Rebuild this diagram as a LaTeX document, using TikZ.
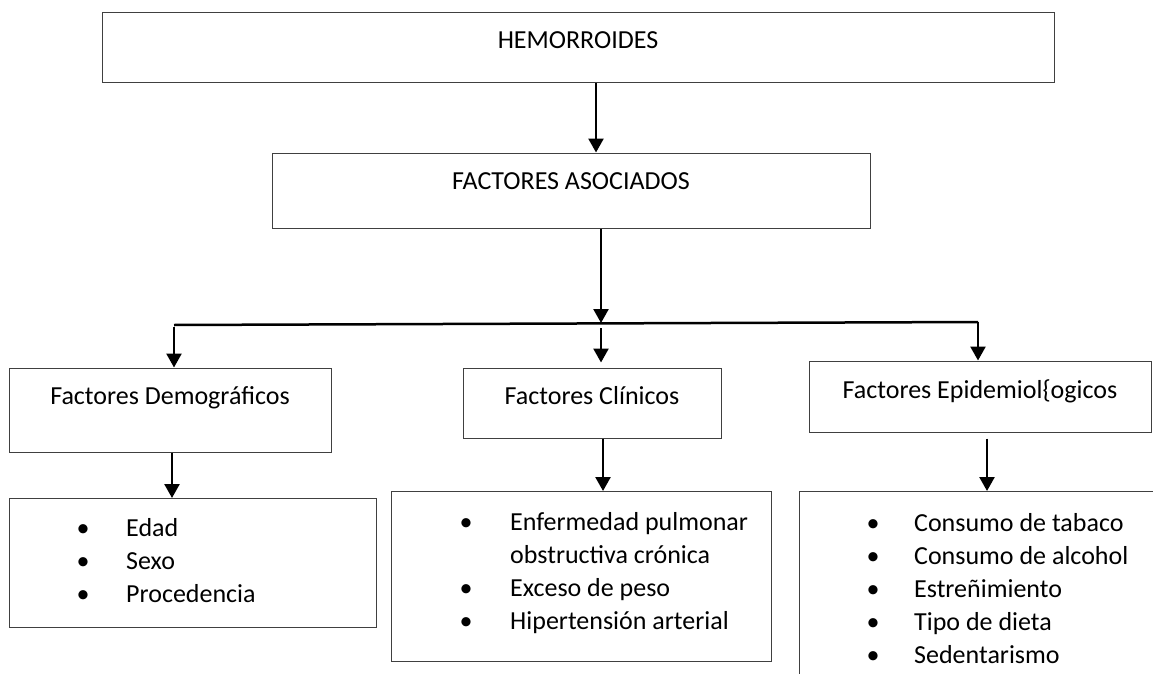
\documentclass[tikz,border=0pt]{standalone}
\usepackage{fontspec}
\setmainfont{Carlito}
\usetikzlibrary{arrows.meta}
\definecolor{boxgray}{RGB}{64,64,64}
\newcommand{\bul}{\makebox[0pt]{\textbullet}}

\begin{document}
\begin{tikzpicture}[x=1pt,y=-1pt,
    every node/.style={font=\fontsize{26}{33}\selectfont},
    box/.style={draw=boxgray, line width=1pt, inner ysep=0pt, text height=36pt, anchor=base},
    listbox/.style={draw=boxgray, line width=1pt, inner sep=0pt, anchor=north west},
    items/.style={inner sep=0pt, anchor=base west},
    arr/.style={line width=2.5pt, -{Triangle[length=14pt,width=15pt]}}]
  \useasboundingbox (0,0) rectangle (1153,674);
  \clip (0,0) rectangle (1153,674);

  % titles
  \node[box, minimum width=952pt, text depth=34pt] (hem) at (578,49) {HEMORROIDES};
  \node[box, minimum width=598pt, text depth=39pt] (asoc) at (571,189) {FACTORES ASOCIADOS};
  \node[box, minimum width=322pt, text depth=48pt] (demo) at (170,404) {Factores Demográficos};
  \node[box, minimum width=258pt, text depth=34pt] (clin) at (592,404) {Factores Clínicos};
  \node[box, minimum width=342pt, text depth=34pt, text height=37pt] (epid) at (980,398) {Factores Epidemiol\{ogicos};

  % lists
  \node[listbox, minimum width=367pt, minimum height=129pt] (demobox) at (9,498) {};
  \node[listbox, minimum width=380pt, minimum height=170pt] (clinbox) at (391,491) {};
  \node[listbox, minimum width=420pt, minimum height=240pt] (epidbox) at (799,491) {};
  \node[items] (demolist) at (83,536) {\begin{tabular}[t]{@{}c@{\hspace{43pt}}l@{}}
    \bul & Edad\\ \bul & Sexo\\ \bul & Procedencia\end{tabular}};
  \node[items] (clinlist) at (466,530) {\begin{tabular}[t]{@{}c@{\hspace{44pt}}l@{}}
    \bul & Enfermedad pulmonar\\ & obstructiva crónica\\ \bul & Exceso de peso\\
    \bul & Hipertensión arterial\end{tabular}};
  \node[items] (epidlist) at (873,531) {\begin{tabular}[t]{@{}c@{\hspace{41pt}}l@{}}
    \bul & Consumo de tabaco\\ \bul & Consumo de alcohol\\ \bul & Estreñimiento\\
    \bul & Tipo de dieta\\ \bul & Sedentarismo\end{tabular}};

  % connectors
  \coordinate (barl) at (174,325);
  \coordinate (barm) at (601,323);
  \coordinate (barr) at (978,322);
  \draw[line width=2.5pt] (barl) -- (barr);
  \draw[arr] ([xshift=18pt]hem.south) -- ([xshift=18pt]hem.south |- asoc.north);
  \draw[arr] ([xshift=30pt]asoc.south) -- (barm);
  \draw[arr] ([yshift=-2pt]barl) -- (barl |- demo.north);
  \draw[arr] ([yshift=-5pt]barm) -- ([yshift=5pt]barm |- clin.north);
  \draw[arr] (barr) -- (barr |- epid.north);
  \draw[arr] ([xshift=2pt]demo.south) -- ([xshift=2pt]demo.south |- demobox.north);
  \draw[arr] ([xshift=11pt]clin.south) -- ([xshift=11pt]clin.south |- clinbox.north);
  \draw[arr] ([xshift=7pt,yshift=-6pt]epid.south) -- ([xshift=7pt]epid.south |- epidbox.north);
\end{tikzpicture}
\end{document}
